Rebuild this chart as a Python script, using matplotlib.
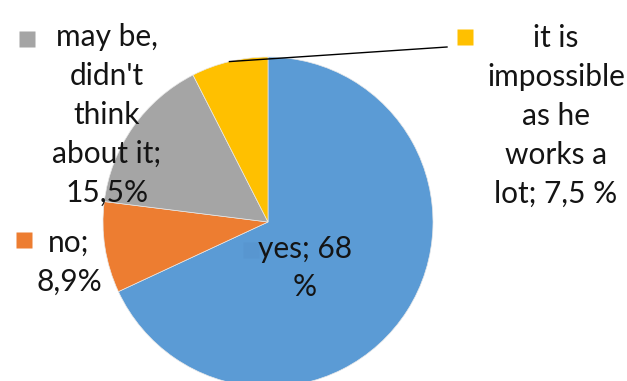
import numpy as np
import matplotlib.pyplot as plt

# data
labels = ["yes; 68\n%", "no;\n8,9%", "may be,\ndidn't\nthink\nabout it;\n15,5%",
          "it is\nimpossible\nas he\nworks a\nlot; 7,5 %"]
values = [68, 8.9, 15.5, 7.5]
colors = ["#5B9BD5", "#ED7D31", "#A5A5A5", "#FFC000"]

plt.rcParams['font.family'] = ['Lato', 'DejaVu Sans']

W, H = 627, 381
cx, cy, R = 268, 222, 165

def px(x, y):
    # pixel position -> data coords (pie radius = 1)
    return (x - cx) / R, (cy - y) / R

fig = plt.figure(figsize=(W / 100, H / 100), dpi=100)
ax = fig.add_axes([0, 0, 1, 1])
wedges, _ = ax.pie(values, colors=colors, startangle=90, counterclock=False,
                   radius=1, wedgeprops=dict(linewidth=0.5, edgecolor="#e8e8e8"))
ax.set_xlim(px(0, 0)[0], px(W, 0)[0])
ax.set_ylim(px(0, H)[1], px(0, 0)[1])
ax.set_aspect('equal')
ax.axis('off')

# label text centres, marker positions (pixels)
text_pos = [(305, 268), (69, 262), (107, 115), (556, 116)]
mark_pos = [(251, 250), (24, 240), (27, 39), (465, 37)]
mark_cols = ["#5896d0", colors[1], colors[2], colors[3]]

for lab, tp, mp, mc in zip(labels, text_pos, mark_pos, mark_cols):
    ax.text(*px(*tp), lab, ha='center', va='center', fontsize=21.5,
            color="#141414", linespacing=1.47)
    ax.plot(*px(*mp), marker='s', ms=11, color=mc, mec='none')

# leader line for the small yellow slice
w = wedges[3]
ang = np.deg2rad((w.theta1 + w.theta2) / 2)
x0, y0 = np.cos(ang), np.sin(ang)
x1, y1 = px(447, 47)
ax.plot([x0, x1], [y0, y1], color='black', lw=1)

fig.savefig("out.png", dpi=100)
